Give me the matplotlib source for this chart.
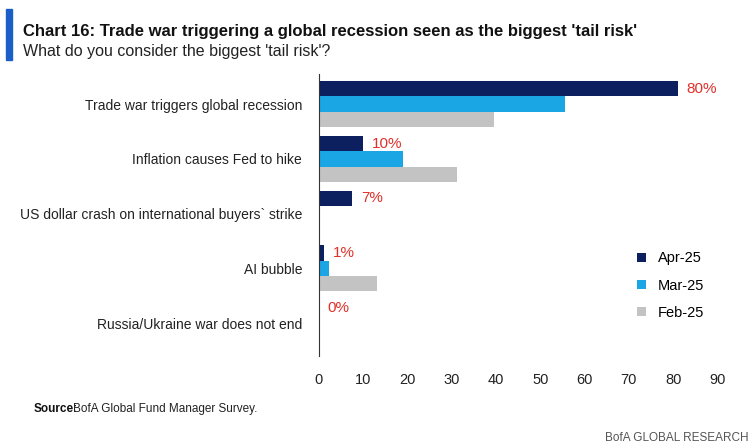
import matplotlib
matplotlib.use("Agg")
import matplotlib.pyplot as plt
import numpy as np

plt.rcParams["font.family"] = ["Liberation Sans Narrow", "Liberation Sans", "DejaVu Sans"]

categories = ["Trade war triggers global recession", "Inflation causes Fed to hike",
              "US dollar crash on international buyers` strike", "AI bubble",
              "Russia/Ukraine war does not end"]
apr25 = [81, 10, 7.5, 1.1, 0]
mar25 = [55.5, 19, 0, 2.3, 0]
feb25 = [39.6, 31.2, 0, 13.1, 0]
labels = ["80%", "10%", "7%", "1%", "0%"]
series_names = ["Apr-25", "Mar-25", "Feb-25"]
colors = ["#0c1f5e", "#1aa6e4", "#c3c3c3"]

fig = plt.figure(figsize=(7.52, 4.48), dpi=100)
ax = fig.add_axes([0.424, 0.205, 0.53, 0.63])
y = np.arange(len(categories))
h = 0.28
for i, (vals, c, n) in enumerate(zip([apr25, mar25, feb25], colors, series_names)):
    ax.barh(y + (i - 1) * h, vals, height=h, color=c, label=n)
for yi, v, t in zip(y, apr25, labels):
    ax.text(v + 2, yi - h, t, color="#e0302a", fontsize=11, va="center", ha="left")
ax.set_yticks(y)
ax.set_yticklabels(categories, fontsize=10, color="#222222")
ax.set_ylim(len(categories) - 0.5 + 0.1, -0.5 - 0.05)
ax.set_xlim(0, 90)
ax.set_xticks(range(0, 91, 10))
ax.tick_params(axis="x", length=0, labelsize=10.5, pad=12, colors="#222222")
ax.tick_params(axis="y", length=0, pad=12)
for s in ["top", "right", "bottom"]:
    ax.spines[s].set_visible(False)
ax.spines["left"].set_color("#333333")
ax.legend(loc="center right", bbox_to_anchor=(1.0, 0.25), frameon=False,
          fontsize=10.5, handlelength=0.6, handleheight=0.6, labelspacing=0.9)

fig.patches.append(plt.Rectangle((0.008, 0.865), 0.008, 0.115, transform=fig.transFigure,
                                 color="#1a5fc8"))
fig.text(0.03, 0.93, "Chart 16: Trade war triggering a global recession seen as the biggest 'tail risk'",
         fontsize=12, fontweight="bold", color="#111111", va="center")
fig.text(0.03, 0.885, "What do you consider the biggest 'tail risk'?", fontsize=11.5,
         color="#222222", va="center")
fig.text(0.045, 0.088, "Source:", fontsize=8.5, fontweight="bold", color="#111111", va="center")
fig.text(0.097, 0.088, "BofA Global Fund Manager Survey.", fontsize=8.5, color="#222222", va="center")
fig.text(0.995, 0.022, "BofA GLOBAL RESEARCH", fontsize=8.5, color="#555555", ha="right", va="center")
fig.savefig("out.png", dpi=100)
